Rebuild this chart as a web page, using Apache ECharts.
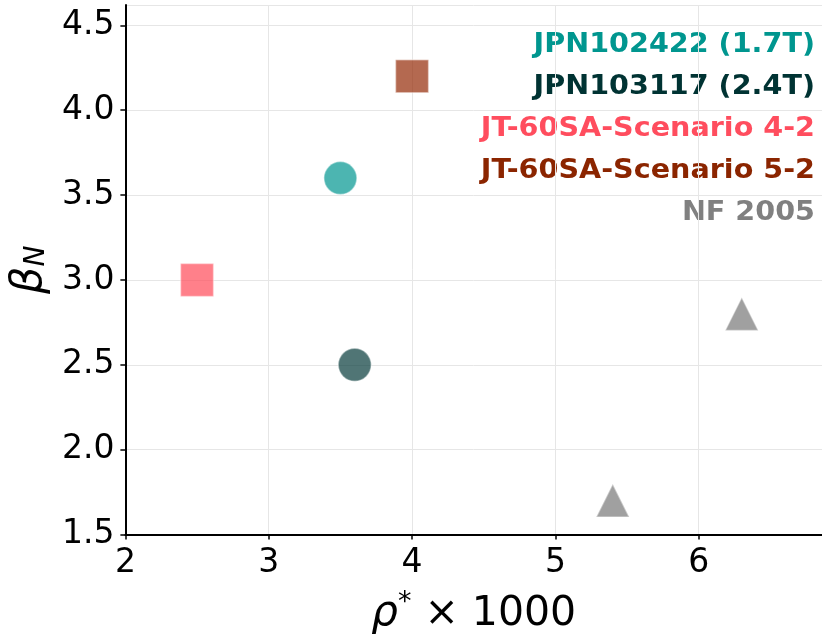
<!DOCTYPE html>
<html><head><meta charset="utf-8">
<script src="https://cdn.jsdelivr.net/npm/echarts@6/dist/echarts.min.js"></script>
<style>html,body{margin:0;padding:0;background:#fff}#c{width:822px;height:640px}</style>
</head><body><div id="c"></div>
<script>
const seriesNames = ['JPN102422 (1.7T)', 'JPN103117 (2.4T)', 'JT-60SA-Scenario 4-2', 'JT-60SA-Scenario 5-2', 'NF 2005'];
const seriesSymbols = ['circle', 'circle', 'rect', 'rect', 'triangle'];
const markerColors = ['#009690', '#053a3a', '#ff4a58', '#942a06', '#777777'];
const textColors = ['#00968f', '#003333', '#ff4d5e', '#8b2500', '#808080'];
const jpn102422 = [[3.5, 3.6]];
const jpn103117 = [[3.6, 2.5]];
const scen42 = [[2.5, 3.0]];
const scen52 = [[4.0, 4.2]];
const nf2005 = [[5.4, 1.7], [6.3, 2.8]];
const seriesData = [jpn102422, jpn103117, scen42, scen52, nf2005];
const xTicks = [2, 3, 4, 5, 6];
const yTicks = [1.5, 2.0, 2.5, 3.0, 3.5, 4.0, 4.5];

const chart = echarts.init(document.getElementById('c'));
const font = 'DejaVu Sans';
chart.setOption({
  animation: false,
  grid: {left: 124, right: 0, top: 5, bottom: 105},
  xAxis: {
    type: 'value', min: 2, max: 6.86, interval: 1,
    axisLine: {show: true, lineStyle: {color: '#000', width: 2}},
    axisTick: {show: true, length: 5, lineStyle: {color: '#000', width: 1.5}},
    splitLine: {show: true, lineStyle: {color: '#e6e6e6', width: 1}},
    axisLabel: {fontFamily: font, fontSize: 33, color: '#000', margin: 12,
      showMaxLabel: false, formatter: v => xTicks.includes(v) ? String(v) : ''},
    name: '{r|ρ}{s|*}{n| × 1000}', nameLocation: 'middle', nameGap: 55,
    nameTextStyle: {rich: {
      r: {fontFamily: font, fontStyle: 'italic', fontSize: 42, color: '#000'},
      s: {fontFamily: font, fontSize: 27, color: '#000', verticalAlign: 'top', padding: [0,0,22,0]},
      n: {fontFamily: font, fontSize: 41, color: '#000'}
    }}
  },
  yAxis: {
    type: 'value', min: 1.5, max: 4.62, interval: 0.5,
    axisLine: {show: true, lineStyle: {color: '#000', width: 2}},
    axisTick: {show: true, length: 5, lineStyle: {color: '#000', width: 1.5}},
    splitLine: {show: true, lineStyle: {color: '#e6e6e6', width: 1}},
    axisLabel: {fontFamily: font, fontSize: 33, color: '#000', margin: 11,
      showMaxLabel: false, formatter: v => yTicks.some(t => Math.abs(t - v) < 1e-9) ? v.toFixed(1) : ''},
    name: '{b|β}{s|N}', nameLocation: 'middle', nameGap: 66, nameRotate: 90,
    nameTextStyle: {rich: {
      b: {fontFamily: font, fontStyle: 'italic', fontSize: 43, color: '#000'},
      s: {fontFamily: font, fontStyle: 'italic', fontSize: 28, color: '#000', padding: [14,0,0,0]}
    }}
  },
  series: seriesNames.map((n, i) => ({
    name: n, type: 'scatter', data: seriesData[i], symbol: seriesSymbols[i], symbolSize: 33,
    itemStyle: {color: markerColors[i], opacity: 0.7, borderColor: 'rgba(255,255,255,0.6)', borderWidth: 1.5}
  })),
  graphic: seriesNames.map((n, i) => ({
    type: 'text', x: 815, y: 45 + i * 42, scaleX: 1.06,
    style: {x: 0, y: 0, text: n, fill: textColors[i], font: 'bold 27px "DejaVu Sans"', textAlign: 'right', textVerticalAlign: 'middle'}
  }))
});
</script></body></html>
